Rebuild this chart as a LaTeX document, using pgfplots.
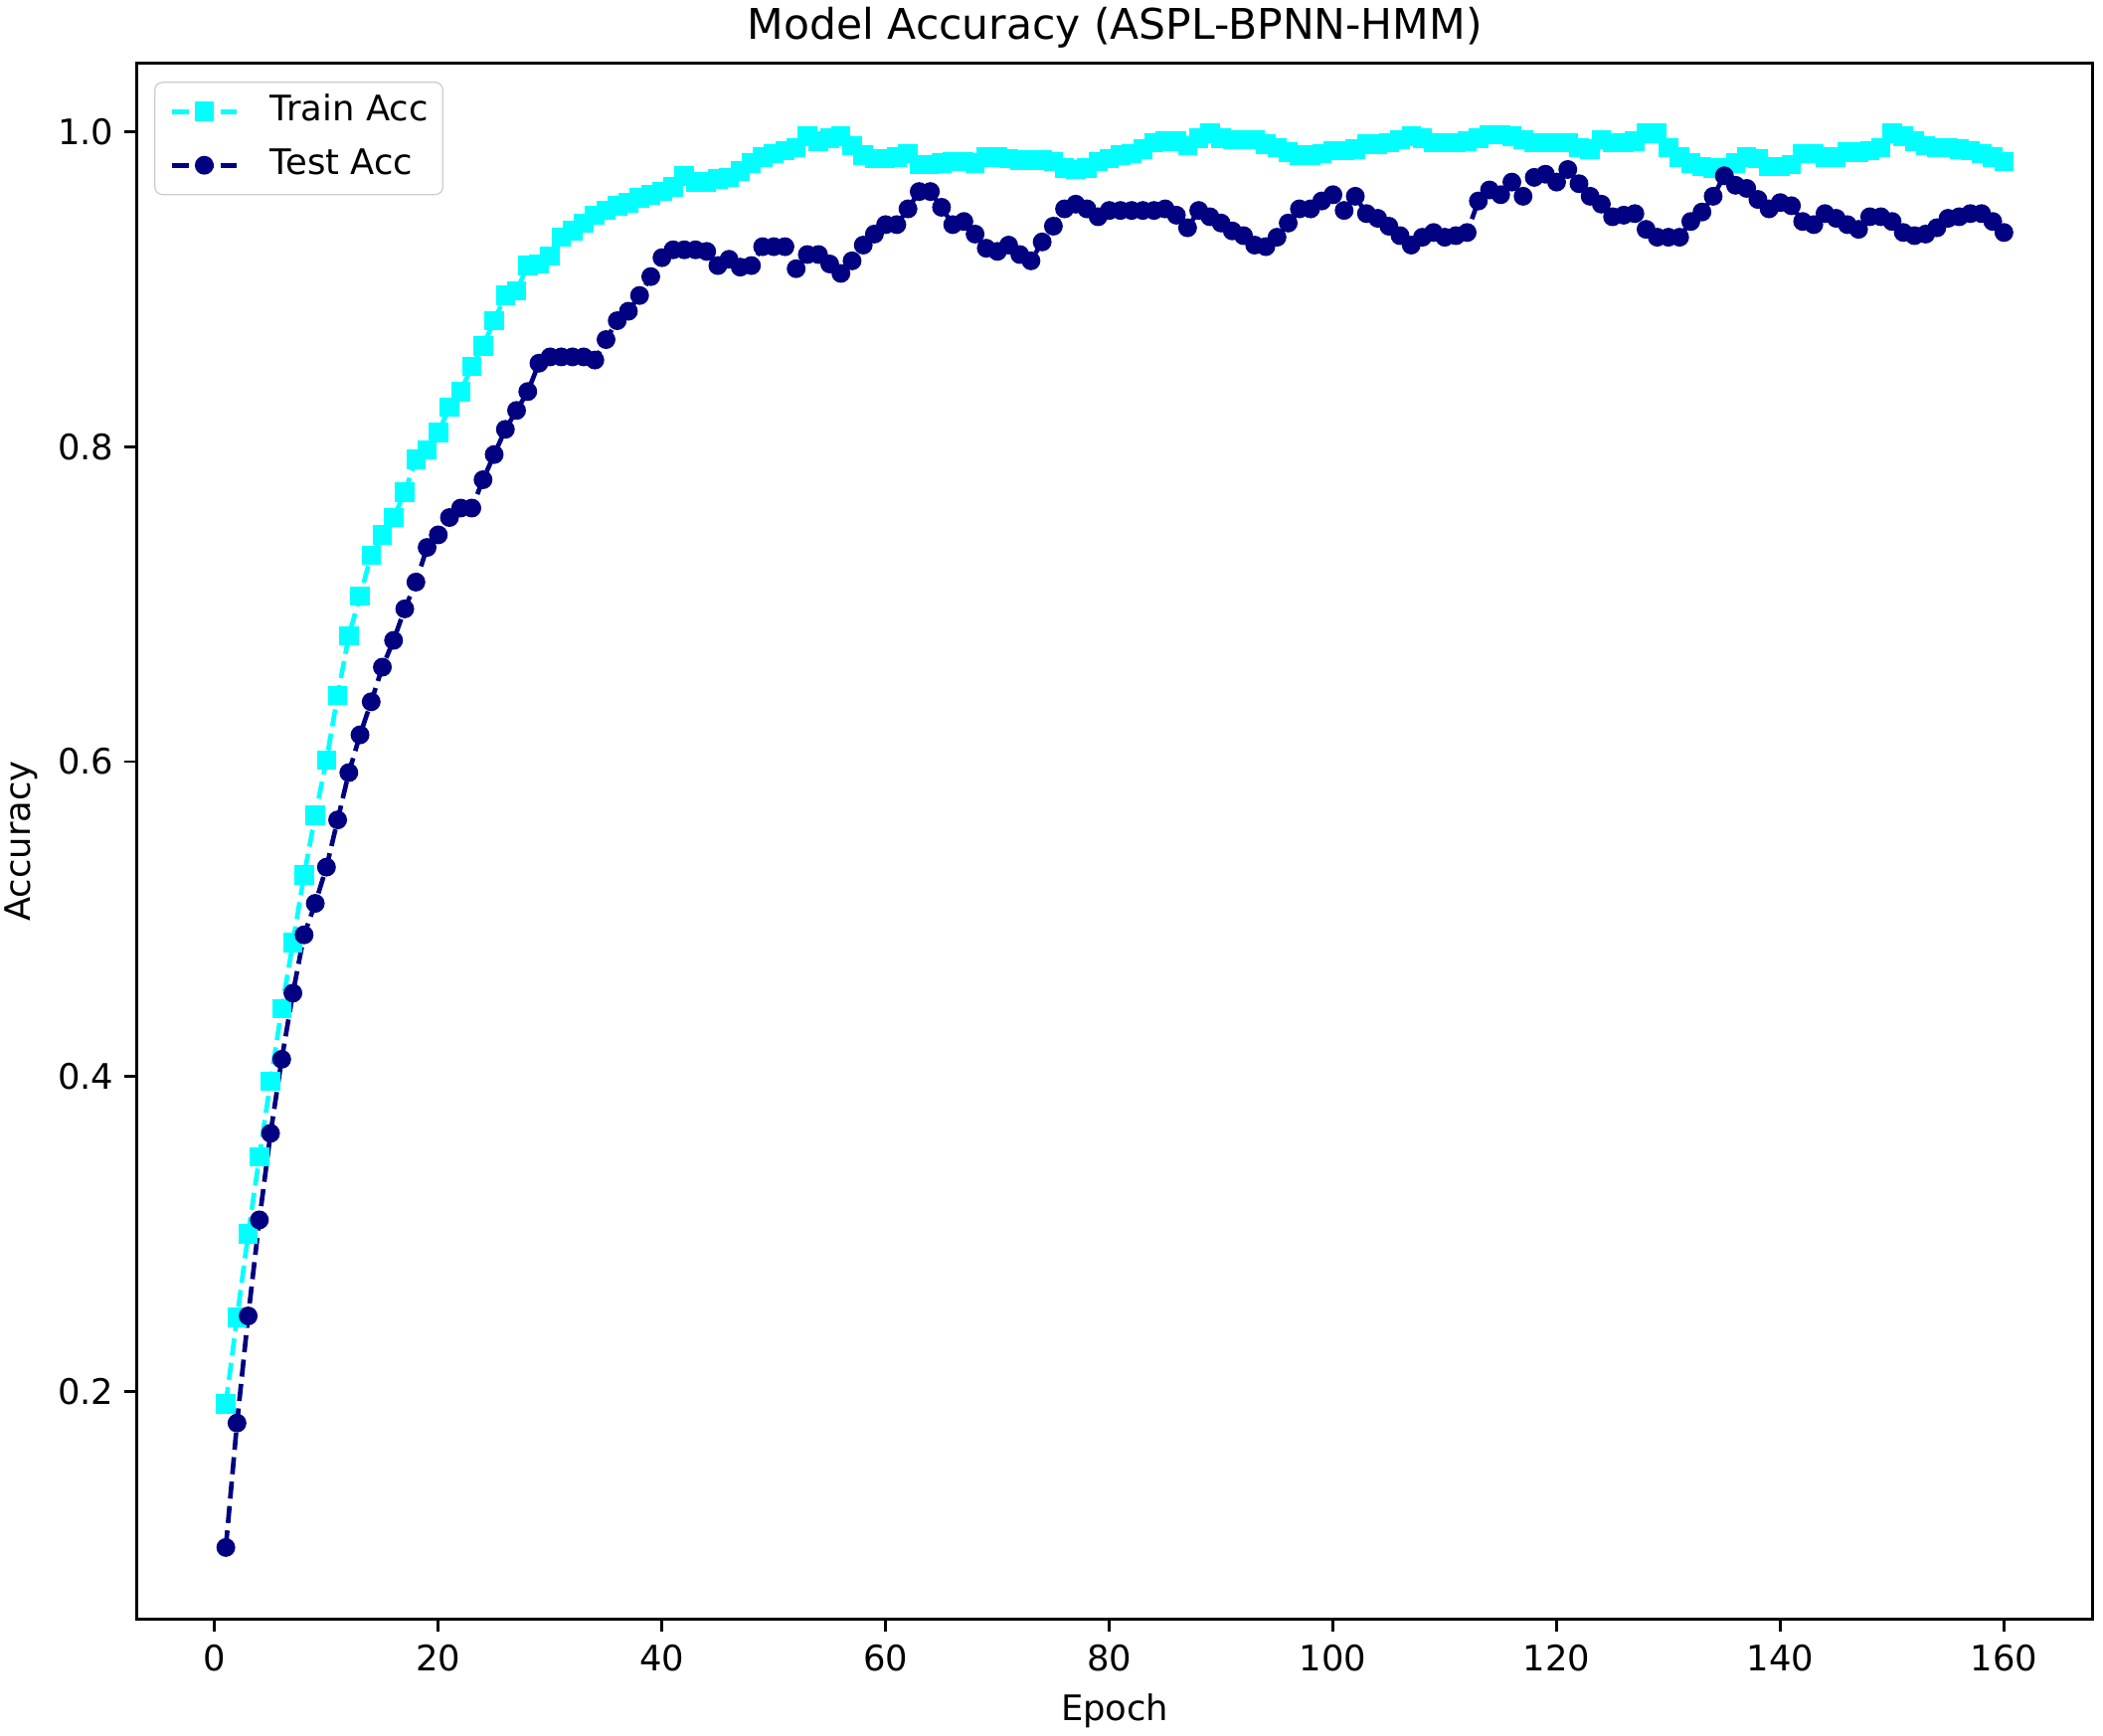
\documentclass[border=0pt]{standalone}
\usepackage{fontspec}
\setmainfont{DejaVu Sans}
\usepackage{pgfplots}
\usepackage{pgfplotstable}
\pgfplotsset{compat=1.18}
\definecolor{mcyan}{RGB}{0,255,255}
\definecolor{mnavy}{RGB}{0,0,128}

\pgfplotstableread{
e a
1 0.192
2 0.247
3 0.300
4 0.349
5 0.397
6 0.443
7 0.485
8 0.528
9 0.566
10 0.601
11 0.642
12 0.680
13 0.705
14 0.731
15 0.744
16 0.755
17 0.771
18 0.792
19 0.798
20 0.809
21 0.825
22 0.835
23 0.851
24 0.864
25 0.880
26 0.896
27 0.899
28 0.915
29 0.916
30 0.921
31 0.933
32 0.937
33 0.942
34 0.947
35 0.950
36 0.953
37 0.955
38 0.958
39 0.960
40 0.962
41 0.965
42 0.972
43 0.968
44 0.968
45 0.970
46 0.971
47 0.975
48 0.980
49 0.984
50 0.986
51 0.988
52 0.990
53 0.997
54 0.994
55 0.996
56 0.997
57 0.991
58 0.985
59 0.983
60 0.983
61 0.984
62 0.986
63 0.979
64 0.979
65 0.980
66 0.981
67 0.981
68 0.980
69 0.984
70 0.984
71 0.983
72 0.982
73 0.982
74 0.982
75 0.981
76 0.977
77 0.976
78 0.977
79 0.981
80 0.983
81 0.985
82 0.986
83 0.989
84 0.993
85 0.994
86 0.994
87 0.991
88 0.996
89 0.999
90 0.996
91 0.995
92 0.995
93 0.995
94 0.992
95 0.990
96 0.987
97 0.985
98 0.985
99 0.986
100 0.988
101 0.988
102 0.989
103 0.992
104 0.992
105 0.993
106 0.995
107 0.997
108 0.996
109 0.993
110 0.993
111 0.993
112 0.994
113 0.996
114 0.998
115 0.998
116 0.997
117 0.995
118 0.993
119 0.993
120 0.993
121 0.993
122 0.990
123 0.989
124 0.995
125 0.993
126 0.993
127 0.994
128 0.999
129 0.999
130 0.990
131 0.984
132 0.980
133 0.978
134 0.977
135 0.977
136 0.980
137 0.984
138 0.983
139 0.978
140 0.978
141 0.979
142 0.986
143 0.986
144 0.984
145 0.984
146 0.987
147 0.987
148 0.988
149 0.990
150 0.999
151 0.997
152 0.994
153 0.991
154 0.990
155 0.990
156 0.989
157 0.988
158 0.986
159 0.984
160 0.981
}\traindata

\pgfplotstableread{
e a
1 0.101
2 0.180
3 0.248
4 0.309
5 0.364
6 0.411
7 0.453
8 0.490
9 0.510
10 0.533
11 0.563
12 0.593
13 0.617
14 0.638
15 0.660
16 0.677
17 0.697
18 0.714
19 0.736
20 0.744
21 0.755
22 0.761
23 0.761
24 0.779
25 0.795
26 0.811
27 0.823
28 0.835
29 0.853
30 0.857
31 0.857
32 0.857
33 0.857
34 0.855
35 0.868
36 0.880
37 0.886
38 0.896
39 0.908
40 0.920
41 0.925
42 0.925
43 0.925
44 0.924
45 0.915
46 0.919
47 0.914
48 0.915
49 0.927
50 0.927
51 0.927
52 0.913
53 0.922
54 0.922
55 0.916
56 0.910
57 0.918
58 0.928
59 0.935
60 0.941
61 0.941
62 0.951
63 0.962
64 0.962
65 0.952
66 0.941
67 0.943
68 0.935
69 0.926
70 0.924
71 0.928
72 0.922
73 0.918
74 0.930
75 0.940
76 0.951
77 0.954
78 0.951
79 0.946
80 0.950
81 0.950
82 0.950
83 0.950
84 0.950
85 0.951
86 0.947
87 0.939
88 0.950
89 0.946
90 0.942
91 0.937
92 0.934
93 0.928
94 0.927
95 0.933
96 0.942
97 0.951
98 0.951
99 0.956
100 0.960
101 0.950
102 0.959
103 0.948
104 0.945
105 0.940
106 0.934
107 0.928
108 0.933
109 0.936
110 0.933
111 0.934
112 0.936
113 0.956
114 0.963
115 0.960
116 0.968
117 0.959
118 0.971
119 0.973
120 0.968
121 0.976
122 0.967
123 0.959
124 0.954
125 0.946
126 0.947
127 0.948
128 0.938
129 0.933
130 0.933
131 0.933
132 0.943
133 0.949
134 0.959
135 0.972
136 0.966
137 0.964
138 0.957
139 0.951
140 0.955
141 0.953
142 0.943
143 0.941
144 0.948
145 0.945
146 0.941
147 0.938
148 0.946
149 0.946
150 0.943
151 0.936
152 0.934
153 0.935
154 0.939
155 0.945
156 0.946
157 0.948
158 0.948
159 0.943
160 0.936
}\testdata

\begin{document}
\begin{tikzpicture}
\path[use as bounding box] (-44.4pt,-37.8pt) rectangle (637.6pt,525.2pt);
\begin{axis}[
  at={(0,0)}, anchor=south west,
  scale only axis, width=634.3pt, height=504.7pt,
  xmin=-6.95, xmax=167.95, ymin=0.0553, ymax=1.0435,
  xtick={0,20,...,160}, ytick={0.2,0.4,0.6,0.8,1.0},
  tick pos=left, tick align=outside, major tick length=4pt,
  every tick/.style={black, line width=0.9pt},
  axis line style={line width=0.9pt},
  /pgf/number format/assume math mode=true,
  ticklabel style={font=\fontsize{11.4}{13.7}\selectfont},
  x tick label style={yshift=-0.6pt},
  y tick label style={/pgf/number format/fixed, /pgf/number format/fixed zerofill, /pgf/number format/precision=1},
  title={Model Accuracy (ASPL-BPNN-HMM)},
  title style={at={(axis description cs:0.5,1)}, anchor=base, yshift=1.9pt, font=\fontsize{13.7}{16.4}\selectfont},
  xlabel={Epoch},
  xlabel style={at={(axis description cs:0.5,0)}, anchor=base, yshift=-32.9pt, font=\fontsize{11.4}{13.7}\selectfont},
  ylabel={Accuracy},
  ylabel style={at={(axis description cs:-0.0590,0.5)}, rotate=0, anchor=center, font=\fontsize{11.4}{13.7}\selectfont},
  legend style={at={(axis description cs:0,1)}, anchor=north west, xshift=5.6pt, yshift=-6pt,
    draw=black!20, rounded corners=2.5pt, font=\fontsize{11.4}{13.7}\selectfont,
    nodes={inner sep=0pt, text height=8.5pt, text depth=2.5pt},
    row sep=6.4pt, inner xsep=4.8pt, inner ysep=4pt},
  legend cell align=left,
  legend image code/.code={\draw[mark repeat=2,mark phase=2,#1] plot coordinates {(0pt,0pt) (10.5pt,0pt) (21pt,0pt)}; \path (31.2pt,0pt);},
]
\addplot[color=mcyan, line width=1.5pt, dash pattern=on 5.55pt off 2.4pt,
  mark=square*, mark size=2.9pt, mark options={solid, fill=mcyan, draw=mcyan, line width=0.5pt}]
  table[x=e, y=a] {\traindata};
\addlegendentry{Train Acc}
\addplot[color=mnavy, line width=1.5pt, dash pattern=on 5.55pt off 2.4pt,
  mark=*, mark size=2.8pt, mark options={solid, fill=mnavy, draw=mnavy, line width=0.5pt}]
  table[x=e, y=a] {\testdata};
\addlegendentry{Test Acc}
\end{axis}
\end{tikzpicture}
\end{document}
